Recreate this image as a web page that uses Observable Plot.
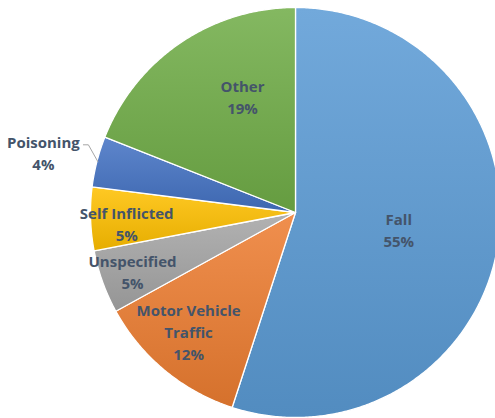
<!DOCTYPE html>
<html>
<head>
<meta charset="utf-8">
<script src="https://cdn.jsdelivr.net/npm/d3@7"></script>
<script src="https://cdn.jsdelivr.net/npm/@observablehq/plot@0.6"></script>
<style>
  html, body { margin: 0; padding: 0; background: #fff; overflow: hidden; }
</style>
</head>
<body>
<div id="chart"></div>
<script>
// ---- data ----
const categories = ["Fall", "Motor Vehicle\nTraffic", "Unspecified", "Self Inflicted", "Poisoning", "Other"];
const shares = [55, 12, 5, 5, 4, 19];
const percentLabels = ["55%", "12%", "5%", "5%", "4%", "19%"];

// ---- styling / layout ----
const baseColors = ["#5B9BD5", "#ED7D31", "#A5A5A5", "#FFC000", "#4472C4", "#70AD47"];
// label placement: radius fraction and position within the slice's angle span (0..1)
const labelRadius = [0.51, 0.78, 0.845, 0.825, 1.265, 0.625];
const labelAngleFrac = [0.5, 0.555, 0.5, 0.40, 0.44, 0.643];

const total = d3.sum(shares);
const slices = [];
let acc = 0;
shares.forEach((v, i) => {
  const a0 = acc / total * 2 * Math.PI;
  acc += v;
  const a1 = acc / total * 2 * Math.PI;
  slices.push({i, name: categories[i], a0, a1});
});

// polygon points for each slice (angle from 12 o'clock, clockwise)
function slicePoints(s) {
  const pts = [{x: 0, y: 0, k: s.i}];
  const n = Math.max(2, Math.ceil((s.a1 - s.a0) / (Math.PI / 360)));
  for (let j = 0; j <= n; j++) {
    const a = s.a0 + (s.a1 - s.a0) * j / n;
    pts.push({x: Math.sin(a), y: Math.cos(a), k: s.i});
  }
  pts.push({x: 0, y: 0, k: s.i});
  return pts;
}

const labelData = slices.map(s => {
  const a = s.a0 + (s.a1 - s.a0) * labelAngleFrac[s.i];
  const r = labelRadius[s.i];
  return {x: r * Math.sin(a), y: r * Math.cos(a), text: s.name + "\n" + percentLabels[s.i]};
});

// leader line for Poisoning (outside label)
const R = 205; // px per unit
const pS = slices[4];
const pMid = (pS.a0 + pS.a1) / 2;
const lab = labelData[4];
const leader = [
  {x: Math.sin(pMid) * 0.995, y: Math.cos(pMid) * 0.995},
  {x: lab.x + 45 / R, y: lab.y + 7 / R},
  {x: lab.x + 40 / R, y: lab.y + 7 / R}
];

function lighten(c, k) { return d3.interpolateRgb(c, "#ffffff")(k); }
function darken(c, k) { return d3.interpolateRgb(c, "#000000")(k); }

function defsMark() {
  const ns = "http://www.w3.org/2000/svg";
  const defs = document.createElementNS(ns, "defs");
  baseColors.forEach((c, i) => {
    const g = document.createElementNS(ns, "linearGradient");
    g.setAttribute("id", "slice-grad-" + i);
    g.setAttribute("x1", "0"); g.setAttribute("y1", "0");
    g.setAttribute("x2", "0"); g.setAttribute("y2", "1");
    const s0 = document.createElementNS(ns, "stop");
    s0.setAttribute("offset", "0"); s0.setAttribute("stop-color", lighten(c, 0.14));
    const s1 = document.createElementNS(ns, "stop");
    s1.setAttribute("offset", "1"); s1.setAttribute("stop-color", darken(c, 0.1));
    g.appendChild(s0); g.appendChild(s1);
    defs.appendChild(g);
  });
  return defs;
}

const sliceMarks = slices.map(s => Plot.line(slicePoints(s), {
  x: "x", y: "y",
  fill: `url(#slice-grad-${s.i})`,
  stroke: "#ffffff",
  strokeWidth: 1.3,
  strokeLinejoin: "round"
}));

const chart = Plot.plot({
  width: 495,
  height: 418,
  margin: 0,
  style: {background: "#ffffff", overflow: "hidden"},
  x: {domain: [-1, 1], range: [90, 500], axis: null},
  y: {domain: [-1, 1], range: [417, 7], axis: null},
  marks: [
    defsMark,
    ...sliceMarks,
    Plot.line(leader, {x: "x", y: "y", stroke: "#a6a6a6", strokeWidth: 1}),
    Plot.text(labelData, {
      x: "x", y: "y", text: "text",
      fill: "#44546A",
      fontSize: 15,
      fontWeight: "bold",
      fontFamily: "Open Sans",
      lineHeight: 1.47,
      textAnchor: "middle",
      lineAnchor: "middle"
    })
  ]
});
document.getElementById("chart").appendChild(chart);
</script>
</body>
</html>
